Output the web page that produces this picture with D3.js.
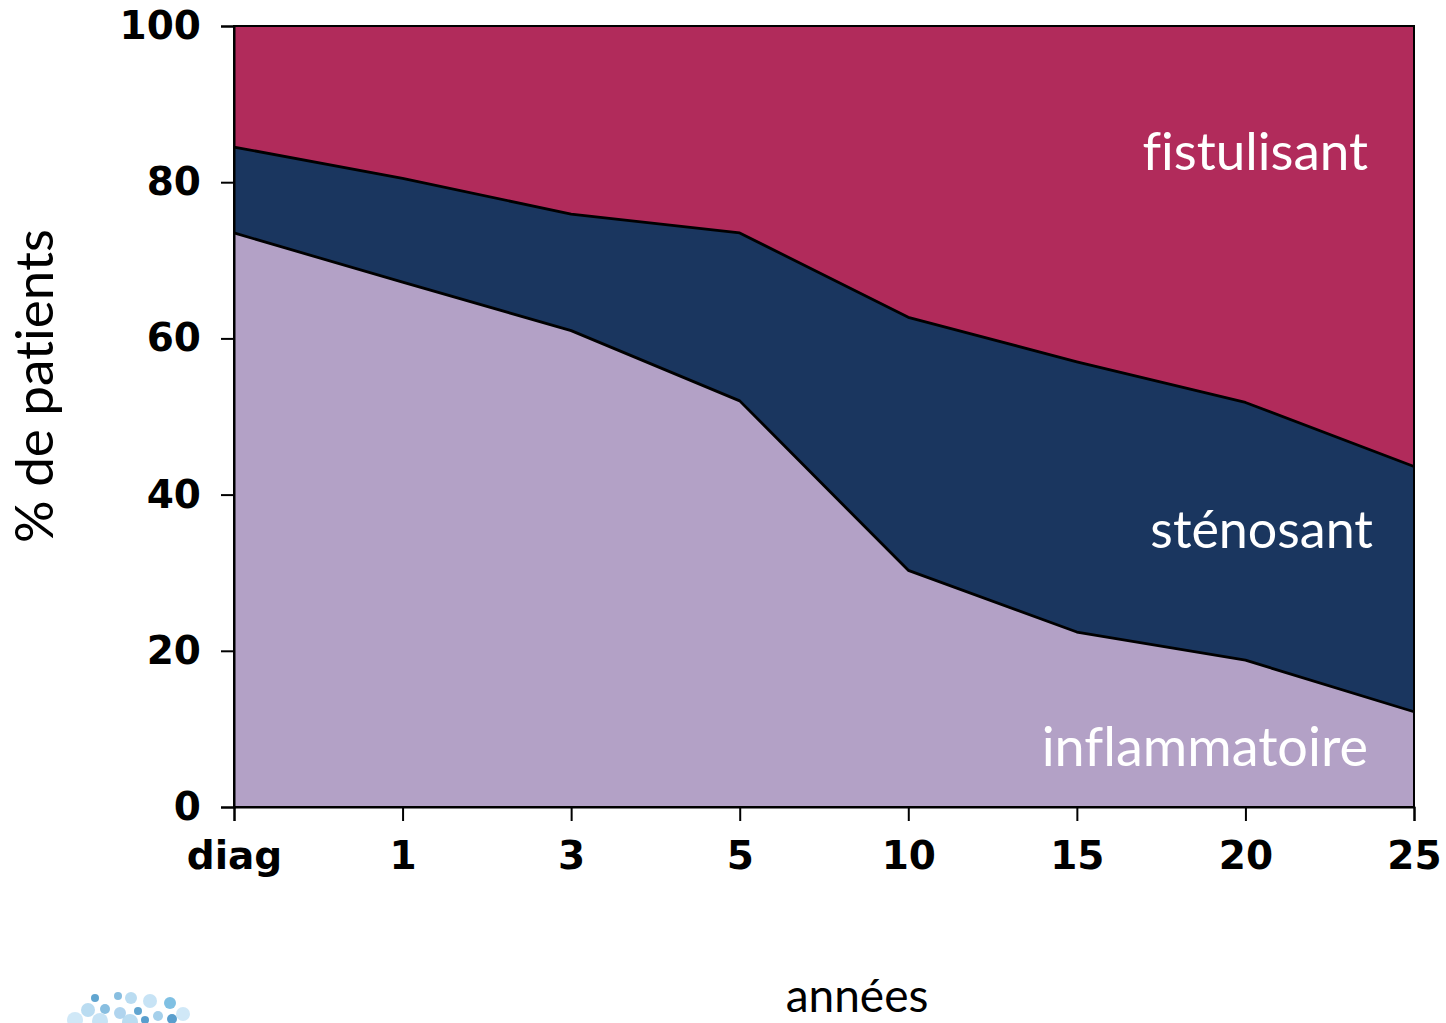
<!DOCTYPE html>
<html>
<head>
<meta charset="utf-8">
<script src="https://cdn.jsdelivr.net/npm/d3@7"></script>
<style>
  body { margin: 0; background: #fff; }
  svg { display: block; }
  .tick text { font-family: "DejaVu Sans", Verdana, sans-serif; font-weight: bold; }
  text { font-variant-ligatures: none; }
</style>
</head>
<body>
<figure id="chart" style="margin:0"></figure>
<script>
// values (percent of patients, per phenotype)
const years = ['diag', '1', '3', '5', '10', '15', '20', '25'];
const inflammatoire = [73.5, 67.2, 61.0, 52.0, 30.3, 22.4, 18.8, 12.2];
const stenosant = [11.0, 13.3, 14.9, 21.5, 32.4, 34.6, 33.0, 31.4];
const fistulisant = [15.5, 19.5, 24.1, 26.5, 37.3, 43.0, 48.2, 56.4];
const yTicks = [0, 20, 40, 60, 80, 100];

const seriesNames = ['inflammatoire', 'sténosant', 'fistulisant'];
const colors = ['#b3a1c6', '#1a365f', '#b12b5b'];

const width = 1446;
const height = 1023;
const margin = { top: 26, right: 32, bottom: 216, left: 234 };
const innerW = width - margin.left - margin.right;
const innerH = height - margin.top - margin.bottom;

const rows = years.map((y, i) => ({
  year: y,
  'inflammatoire': inflammatoire[i],
  'sténosant': stenosant[i],
  'fistulisant': fistulisant[i]
}));

const svg = d3.select('figure#chart').append('svg')
  .attr('width', width)
  .attr('height', height);

const g = svg.append('g')
  .attr('transform', 'translate(' + margin.left + ',' + margin.top + ')');

const x = d3.scalePoint().domain(years).range([0, innerW]);
const y = d3.scaleLinear().domain([0, 100]).range([innerH, 0]);

const stacked = d3.stack().keys(seriesNames)(rows);

const area = d3.area()
  .x(d => x(d.data.year))
  .y0(d => y(d[0]))
  .y1(d => y(d[1]));

g.selectAll('path.layer')
  .data(stacked)
  .enter().append('path')
  .attr('class', 'layer')
  .attr('d', area)
  .attr('fill', (d, i) => colors[i]);

// boundary lines between layers
const line = d3.line()
  .x(d => x(d.data.year))
  .y(d => y(d[1]));
g.selectAll('path.edge')
  .data(stacked.slice(0, 2))
  .enter().append('path')
  .attr('class', 'edge')
  .attr('d', line)
  .attr('fill', 'none')
  .attr('stroke', '#000')
  .attr('stroke-width', 2.8)
  .attr('stroke-linejoin', 'round');

// frame
g.append('rect')
  .attr('width', innerW)
  .attr('height', innerH)
  .attr('fill', 'none')
  .attr('stroke', '#000')
  .attr('stroke-width', 2);

const yAxis = g.append('g')
  .call(d3.axisLeft(y).tickValues(yTicks).tickSize(13).tickPadding(20));
yAxis.selectAll('text').attr('font-size', 39).attr('fill', '#000');

const xAxis = g.append('g')
  .attr('transform', 'translate(0,' + innerH + ')')
  .call(d3.axisBottom(x).tickSize(14).tickPadding(20));
xAxis.selectAll('text').attr('font-size', 39).attr('fill', '#000');
svg.selectAll('.domain').attr('stroke-width', 2);
svg.selectAll('.tick line').attr('stroke-width', 2);

// series labels inside the plot
const labelFont = 'Lato, Carlito, "Open Sans", sans-serif';
const labels = [
  { text: 'fistulisant', v: 81.6, dx: -46, size: 53 },
  { text: 'sténosant', v: 33.2, dx: -41, size: 52 },
  { text: 'inflammatoire', v: 5.2, dx: -46, size: 54 }
];
g.selectAll('text.series')
  .data(labels)
  .enter().append('text')
  .attr('class', 'series')
  .attr('x', d => innerW + d.dx)
  .attr('y', d => y(d.v))
  .attr('text-anchor', 'end')
  .attr('font-family', labelFont)
  .attr('font-size', d => d.size)
  .attr('fill', '#fff')
  .text(d => d.text);

// axis titles
svg.append('text')
  .attr('transform', 'translate(53,386) rotate(-90)')
  .attr('text-anchor', 'middle')
  .attr('font-family', labelFont)
  .attr('font-size', 53)
  .attr('fill', '#000')
  .text('% de patients');

svg.append('text')
  .attr('x', 857)
  .attr('y', 1012)
  .attr('text-anchor', 'middle')
  .attr('font-family', labelFont)
  .attr('font-size', 46)
  .attr('fill', '#000')
  .text('années');

// small logo in the corner (dots)
const logoDots = [
  [95, 998, 4, '#3a8fc4'], [118, 996, 4, '#6aaed8'], [131, 998, 6, '#a9d3ee'],
  [150, 1001, 7, '#b9dcf2'], [170, 1003, 6, '#5fb0dc'], [183, 1014, 7, '#c4e2f5'],
  [88, 1010, 7, '#a9d3ee'], [105, 1009, 5, '#6aaed8'], [120, 1013, 6, '#9cc9ea'],
  [138, 1011, 4, '#3a8fc4'], [158, 1016, 5, '#8fc4e6'], [172, 1019, 5, '#2f86c0'],
  [75, 1020, 8, '#c4e2f5'], [100, 1021, 8, '#b9dcf2'], [130, 1022, 8, '#a9d3ee'],
  [145, 1020, 4, '#2f86c0']
];
svg.append('g').selectAll('circle')
  .data(logoDots)
  .enter().append('circle')
  .attr('cx', d => d[0])
  .attr('cy', d => d[1])
  .attr('r', d => d[2])
  .attr('fill', d => d[3])
  .attr('opacity', 0.8);
</script>
</body>
</html>
